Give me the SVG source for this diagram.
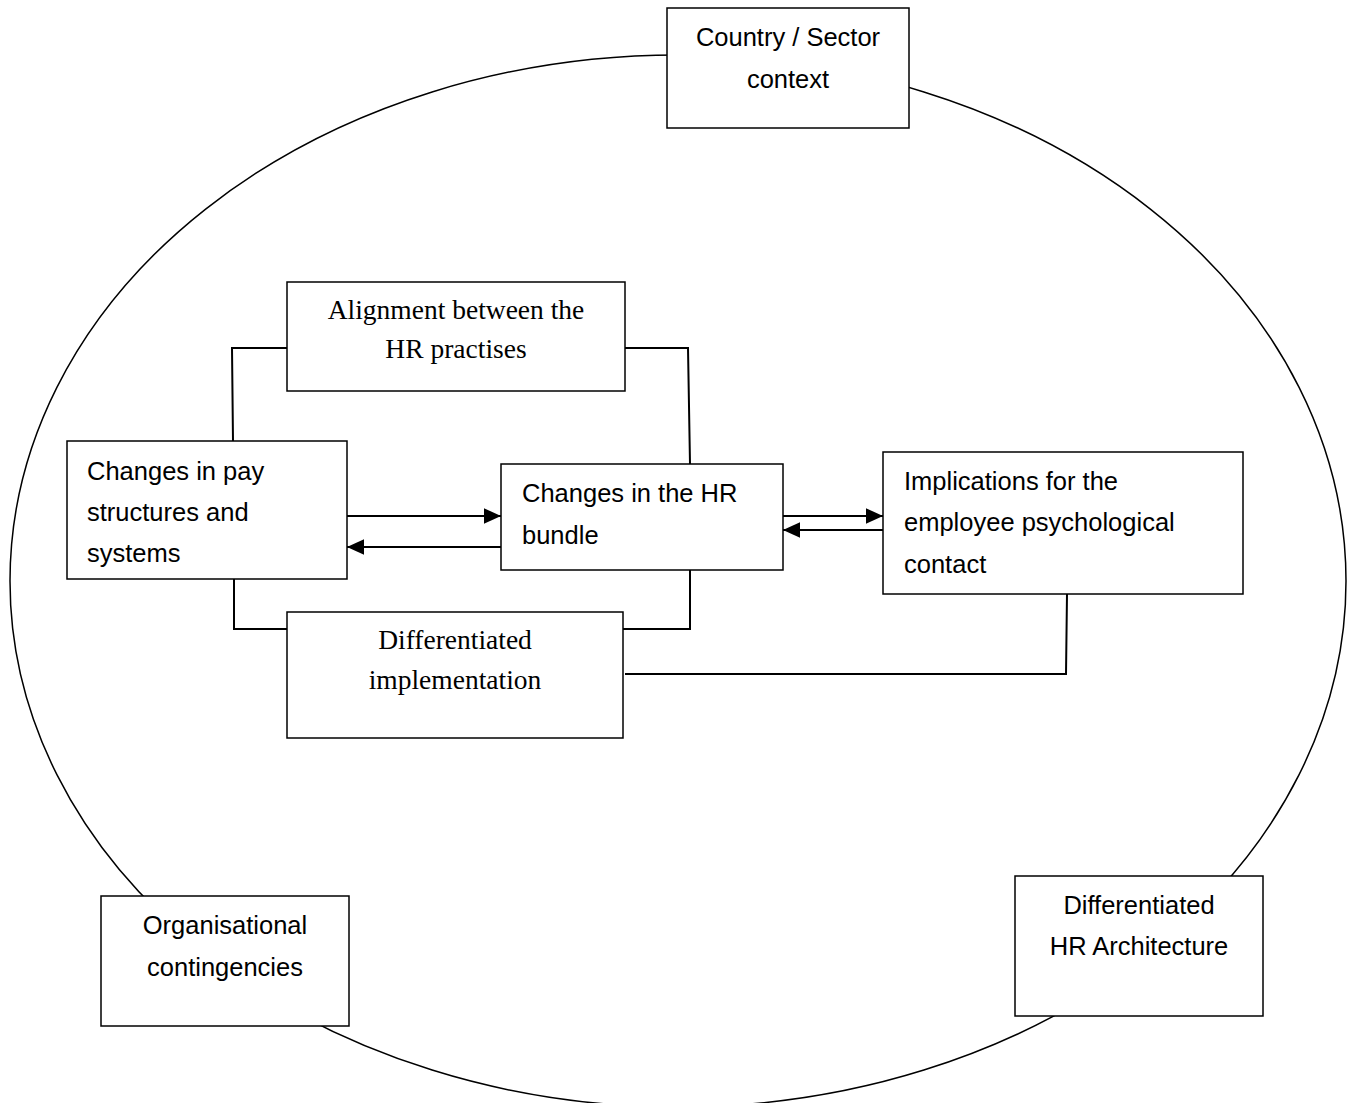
<svg xmlns="http://www.w3.org/2000/svg" width="1356" height="1103" viewBox="0 0 1356 1103">
<style>
.box{fill:#fff;stroke:#000;stroke-width:1.5}
.s{font-family:"Liberation Sans",Arial,sans-serif;font-size:25.5px;fill:#000}
.r{font-family:"Liberation Serif","Times New Roman",serif;font-size:27.5px;fill:#000}
.c{text-anchor:middle}
.ln{fill:none;stroke:#000;stroke-width:2}
</style>
<defs>
<marker id="ah2" viewBox="0 0 10 10" refX="10" refY="5" markerWidth="17" markerHeight="17" markerUnits="userSpaceOnUse" orient="auto">
<path d="M0,0.5 L10,5 L0,9.5 z" fill="#000"/>
</marker>
</defs>
<rect width="1356" height="1103" fill="#fff"/>
<ellipse cx="678" cy="581" rx="668" ry="526" fill="none" stroke="#000" stroke-width="1.5"/>
<g id="connectors">
<polyline class="ln" points="233,441 232,348 287,348"/>
<polyline class="ln" points="625,348 688,348 690,464"/>
<polyline class="ln" points="234,579 234,629 287,629"/>
<polyline class="ln" points="623,629 690,629 690,570"/>
<polyline class="ln" points="625,674 1066,674 1067,594"/>
<line class="ln" x1="347" y1="516" x2="501" y2="516" marker-end="url(#ah2)"/>
<line class="ln" x1="501" y1="547" x2="347" y2="547" marker-end="url(#ah2)"/>
<line class="ln" x1="783" y1="516" x2="883" y2="516" marker-end="url(#ah2)"/>
<line class="ln" x1="883" y1="530" x2="783" y2="530" marker-end="url(#ah2)"/>
</g>
<g id="country">
<rect class="box" x="667" y="8" width="242" height="120"/>
<text class="s c" x="788" y="46">Country / Sector</text>
<text class="s c" x="788" y="88">context</text>
</g>
<g id="alignment">
<rect class="box" x="287" y="282" width="338" height="109"/>
<text class="r c" x="456" y="319">Alignment between the</text>
<text class="r c" x="456" y="358">HR practises</text>
</g>
<g id="pay">
<rect class="box" x="67" y="441" width="280" height="138"/>
<text class="s" x="87" y="480">Changes in pay</text>
<text class="s" x="87" y="521">structures and</text>
<text class="s" x="87" y="562">systems</text>
</g>
<g id="bundle">
<rect class="box" x="501" y="464" width="282" height="106"/>
<text class="s" x="522" y="502">Changes in the HR</text>
<text class="s" x="522" y="544">bundle</text>
</g>
<g id="implications">
<rect class="box" x="883" y="452" width="360" height="142"/>
<text class="s" x="904" y="490">Implications for the</text>
<text class="s" x="904" y="531">employee psychological</text>
<text class="s" x="904" y="573">contact</text>
</g>
<g id="diffimpl">
<rect class="box" x="287" y="612" width="336" height="126"/>
<text class="r c" x="455" y="649">Differentiated</text>
<text class="r c" x="455" y="689">implementation</text>
</g>
<g id="org">
<rect class="box" x="101" y="896" width="248" height="130"/>
<text class="s c" x="225" y="934">Organisational</text>
<text class="s c" x="225" y="976">contingencies</text>
</g>
<g id="diffhr">
<rect class="box" x="1015" y="876" width="248" height="140"/>
<text class="s c" x="1139" y="914">Differentiated</text>
<text class="s c" x="1139" y="955">HR Architecture</text>
</g>
</svg>
